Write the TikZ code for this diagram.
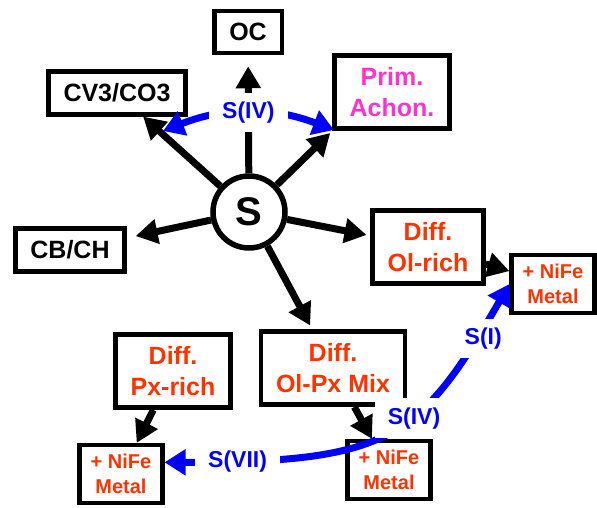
\documentclass[tikz,border=0pt]{standalone}
\usepackage{fontspec}
\setmainfont{Liberation Sans}
\usepackage{tikz}
\usetikzlibrary{arrows.meta, calc}
\definecolor{sblue}{HTML}{0000FF}
\definecolor{sred}{HTML}{FF3300}
\definecolor{spink}{HTML}{FF33CC}

\begin{document}
\begin{tikzpicture}[x=1pt, y=1pt,
      box/.style={draw, line width=4.5pt, inner xsep=15pt, inner ysep=12pt,
                  minimum height=42pt, align=center,
                  font=\fontsize{25}{31}\selectfont\bfseries},
      metal/.style={draw, line width=4.5pt, inner xsep=11pt, inner ysep=9pt,
                    align=center, text=sred,
                    font=\fontsize{20}{25}\selectfont\bfseries},
      arr/.style={-{Triangle[length=22pt, width=24pt]}, line width=7pt},
      sarr/.style={{Triangle[length=21pt, width=25pt]}-{Triangle[length=21pt, width=25pt]},
                   line width=7pt, sblue},
      slab/.style={fill=white, text=sblue, inner xsep=13pt, inner ysep=9pt,
                   font=\fontsize{23}{27}\selectfont\bfseries}
    ]
      \useasboundingbox (0,0) rectangle (597,508);

      \node[draw, circle, line width=5.5pt, minimum size=72pt, inner sep=0pt,
            font=\fontsize{40}{42}\selectfont\bfseries] (S) at (249,296) {S};

      \node[box] (oc) at (248,476) {OC};
      \node[box] (cv3) at (117,415) {CV3/CO3};
      \node[box, text=spink] (prim) at (392,416) {Prim.\\Achon.};
      \node[box] (cbch) at (70,258) {CB/CH};
      \node[box, text=sred] (olrich) at (428,261) {Diff.\\Ol-rich};
      \node[box, text=sred] (olpx) at (333,140) {Diff.\\Ol-Px Mix};
      \node[box, text=sred] (pxrich) at (173,137) {Diff.\\Px-rich};
      \node[metal] (nifeR) at (553,224) {+ NiFe\\Metal};
      \node[metal] (nifeM) at (389,38) {+ NiFe\\Metal};
      \node[metal] (nifeL) at (121,34) {+ NiFe\\Metal};

      \draw[arr, shorten >=11pt] (S) -- (oc);
      \draw[arr] (S) -- (cv3);
      \draw[arr, shorten >=3pt] (S) -- (prim.south west);
      \draw[arr, shorten >=9pt] (S) -- (cbch);
      \draw[arr, shorten >=4pt] (S) -- (olrich);
      \draw[arr, shorten >=4pt] (S) -- (olpx);
      \draw[arr] (olrich) -- (nifeR);
      \draw[arr] (olpx) -- (nifeM);
      \draw[arr] (pxrich) -- (nifeL);

      \coordinate (ivL) at (163,377);
      \coordinate (ivR) at (334,378);
      \draw[sarr] (ivL) to[bend left=21] node[slab] (sivtop) {S(IV)} (ivR);

      \draw[sarr] (nifeL.15) to[out=0, in=240, out distance=225pt, in distance=180pt]
        node[slab, pos=0.12] (svii) {S(VII)}
        node[slab, pos=0.6, yshift=-4pt] (sivlow) {S(IV)}
        node[slab, pos=0.88, xshift=4pt, yshift=-4pt] (si) {S(I)}
        (nifeR.west);
    \end{tikzpicture}
\end{document}
